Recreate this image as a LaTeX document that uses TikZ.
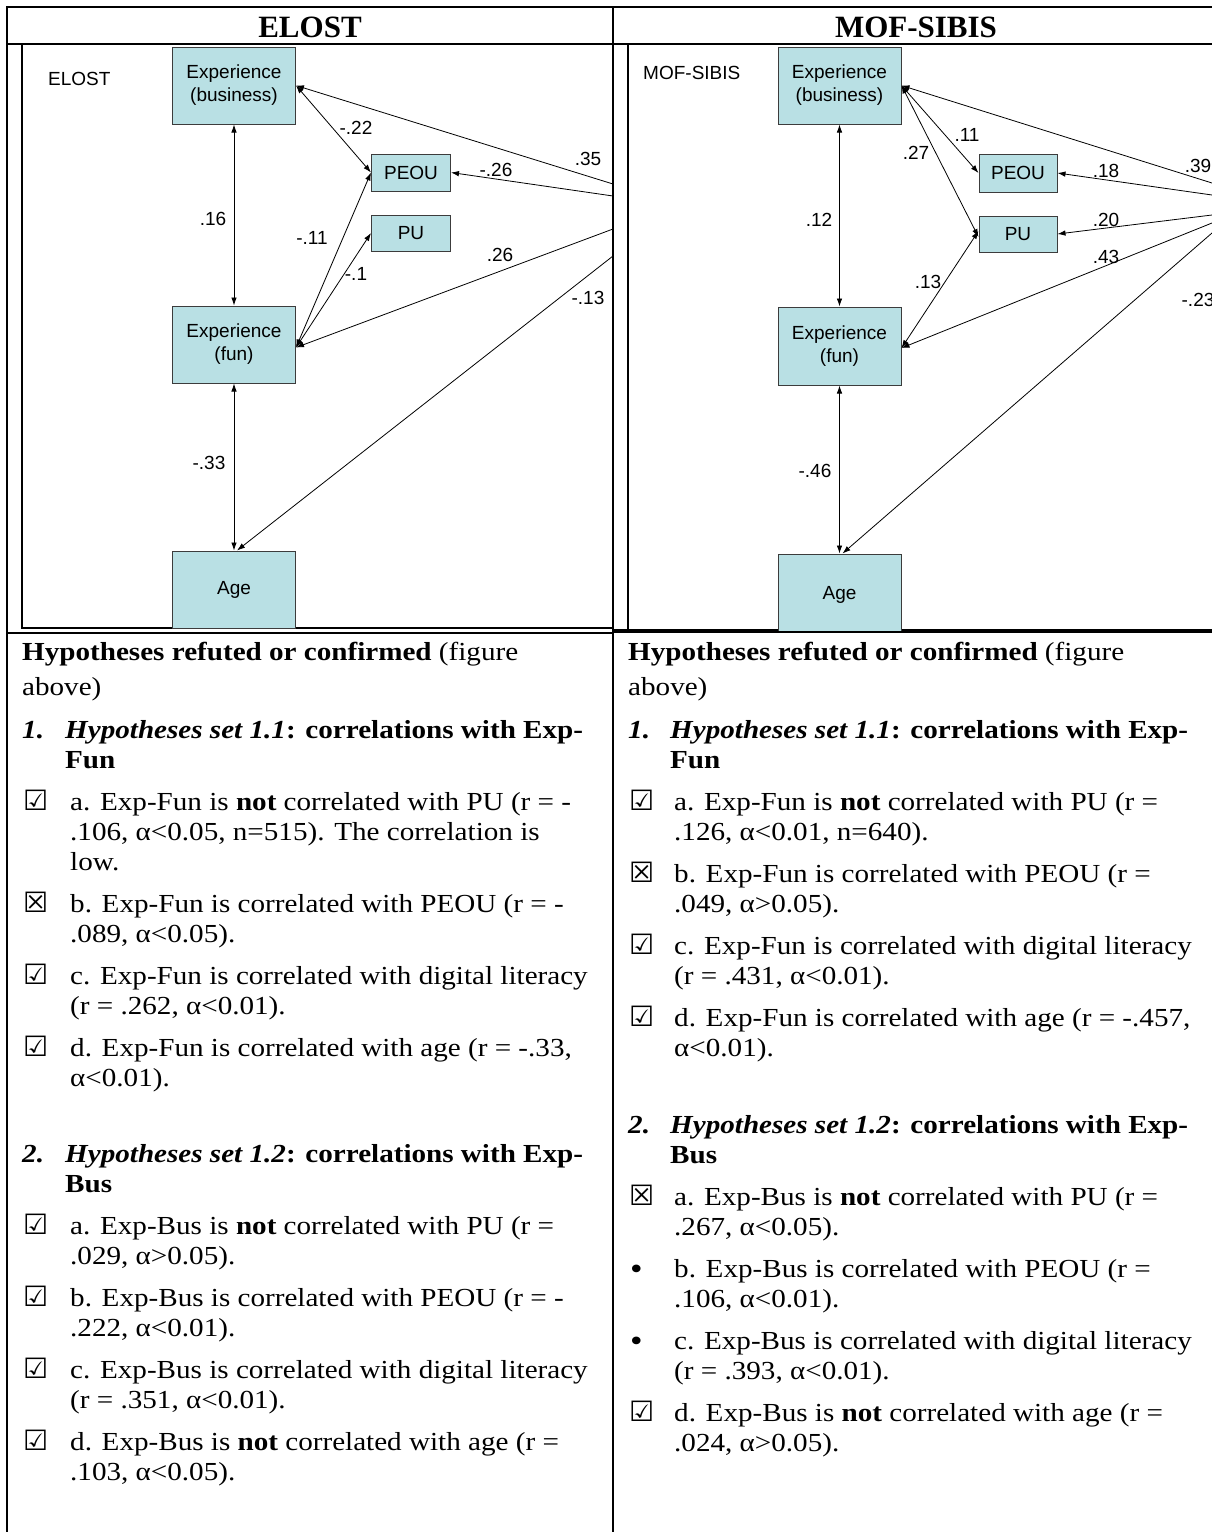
\documentclass[tikz,border=0pt]{standalone}
\usepackage{fontspec}
\setmainfont{Liberation Serif}
\newfontfamily\bodyf[FakeStretch=1.12]{Liberation Serif}
\newfontfamily\arialf{Liberation Sans}
\newfontfamily\symf{DejaVu Sans}
\usetikzlibrary{arrows.meta}
\definecolor{boxfill}{RGB}{185,224,228}
\definecolor{boxline}{RGB}{60,60,60}
\newcommand\bodyfont{\bodyf\fontsize{26}{30}\selectfont}
\newcommand\tline[4]{\node[txt] (#1) at (#2,#3) {#4};}
\newcommand\tsym[4]{\node[symtxt] (#1) at (#2,#3) {#4};}
\newcommand\tbul[4]{\node[bultxt] (#1) at (#2,#3) {#4};}
\tikzset{
  txt/.style={anchor=base west, inner sep=0pt, font=\bodyfont},
  symtxt/.style={anchor=base west, inner sep=0pt, font=\symf\fontsize{28}{28}\selectfont},
  bultxt/.style={anchor=base west, inner sep=0pt, font=\bodyf\fontsize{32}{32}\selectfont},
  vbox/.style={draw=boxline, line width=1pt, fill=boxfill, inner sep=0pt, align=center,
    font=\arialf\fontsize{19}{23}\selectfont},
  lab/.style={inner sep=0pt, font=\arialf\fontsize{19}{23}\selectfont},
  tab/.style={line width=1.8pt},
  frm/.style={line width=1.5pt},
  one/.style={line width=0.8pt, -{Latex[length=8pt,width=5.5pt]}},
  two/.style={line width=0.8pt, {Latex[length=8pt,width=5.5pt]}-{Latex[length=8pt,width=5.5pt]}},
}
\begin{document}
\begin{tikzpicture}[x=1pt,y=-1pt]
\useasboundingbox (0,0) rectangle (1212,1532);
\fill[white] (0,0) rectangle (1212,1532);

% ---------- table ----------
\draw[tab] (7,1532) -- (7,7) -- (1212,7);
\draw[tab] (613,7) -- (613,1532);
\draw[line width=2.4pt] (7,44) -- (1212,44);
\draw[tab] (7,633) -- (613,633);
\draw[line width=3.5pt] (613,631) -- (1212,631);

\node[inner sep=0pt, font=\bfseries\fontsize{31}{31}\selectfont, anchor=base] (hL) at (310,37) {ELOST};
\node[inner sep=0pt, font=\bfseries\fontsize{31}{31}\selectfont, anchor=base] (hR) at (916,37) {MOF-SIBIS};

% ---------- left picture ----------
\draw[frm] (22,44) -- (22,628) -- (613,628);

\node[lab, anchor=west] (tL) at (48,79) {ELOST};
\node[vbox, minimum width=123pt, minimum height=77pt] (ebL) at (234,85.5) {Experience\\(business)};
\node[vbox, minimum width=79pt, minimum height=37pt] (peouL) at (411,172.5) {PEOU};
\node[vbox, minimum width=79pt, minimum height=36pt] (puL) at (411,233) {PU};
\node[vbox, minimum width=123pt, minimum height=77pt] (efL) at (234,344.5) {Experience\\(fun)};
\begin{scope}
\clip (22,44) rectangle (613,628);
\node[vbox, minimum width=123pt, minimum height=77pt] (ageL) at (234,589.5) {Age};
\end{scope}

\coordinate (sL1) at (613,184);
\coordinate (sL2) at (613,196);
\coordinate (sL3) at (613,229);
\coordinate (sL4) at (613,256);

\draw[two] (ebL.south) -- (efL.north);
\draw[two] (efL.south) -- (ageL.north);
\draw[two] (ebL.east) -- (peouL.west);
\draw[one] (sL1) -- (ebL.east);
\draw[one] (sL2) -- (peouL.east);
\draw[two] ([yshift=-3pt]efL.east) -- (peouL.west);
\draw[two] ([yshift=-3pt]efL.east) -- (puL.west);
\draw[one] (sL3) -- ([yshift=-3pt]efL.east);
\draw[one] (sL4) -- ([xshift=3pt]ageL.north);

\node[lab] (l16) at (213,219) {.16};
\node[lab] (l33) at (209,463) {-.33};
\node[lab] (l22) at (356,128) {-.22};
\node[lab] (l35) at (588,159) {.35};
\node[lab] (l26a) at (496,170) {-.26};
\node[lab] (l11) at (312,238) {-.11};
\node[lab] (l1) at (356,274) {-.1};
\node[lab] (l26b) at (500,255) {.26};
\node[lab] (l13) at (588,298) {-.13};

% ---------- right picture ----------
\draw[frm] (628,44) -- (628,631);

\node[lab, anchor=west] (tR) at (643,73) {MOF-SIBIS};
\node[vbox, minimum width=123pt, minimum height=77pt] (ebR) at (839.5,85.5) {Experience\\(business)};
\node[vbox, minimum width=78pt, minimum height=38pt] (peouR) at (1018,173) {PEOU};
\node[vbox, minimum width=78pt, minimum height=36pt] (puR) at (1018,234) {PU};
\node[vbox, minimum width=123pt, minimum height=78pt] (efR) at (839.5,346) {Experience\\(fun)};
\begin{scope}
\clip (628,44) rectangle (1212,630);
\node[vbox, minimum width=123pt, minimum height=82pt] (ageR) at (839.5,595) {Age};
\end{scope}

\coordinate (sR1) at (1212,183);
\coordinate (sR2) at (1212,195);
\coordinate (sR3) at (1212,215);
\coordinate (sR4) at (1212,223);
\coordinate (sR5) at (1212,233);

\draw[two] (ebR.south) -- (efR.north);
\draw[two] (efR.south) -- (ageR.north);
\draw[two] (ebR.east) -- (peouR.west);
\draw[two] (ebR.east) -- ([yshift=-3pt]puR.west);
\draw[one] (sR1) -- (ebR.east);
\draw[one] (sR2) -- (peouR.east);
\draw[one] (sR3) -- (puR.east);
\draw[one] (sR4) -- ([yshift=-2pt]efR.east);
\draw[two] ([yshift=-2pt]efR.east) -- ([yshift=3pt]puR.west);
\draw[one] (sR5) -- ([xshift=3pt]ageR.north);

\node[lab] (r12) at (819,220) {.12};
\node[lab] (r46) at (815,471) {-.46};
\node[lab] (r11) at (967,135) {.11};
\node[lab] (r27) at (916,153) {.27};
\node[lab] (r39) at (1198,166) {.39};
\node[lab] (r18) at (1106,171) {.18};
\node[lab] (r20) at (1106,220) {.20};
\node[lab] (r43) at (1106,257) {.43};
\node[lab] (r13) at (928,282) {.13};
\node[lab] (r23) at (1198,300) {-.23};

% ---------- left text ----------
\tline{a1}{22}{660}{\textbf{Hypotheses refuted or confirmed} (figure}
\tline{a2}{22}{695}{above)}
\tline{a3n}{22}{738}{\textbf{\textit{1.}}}
\tline{a3}{65}{738}{\textbf{\textit{Hypotheses set 1.1}: correlations with Exp-}}
\tline{a4}{65}{768}{\textbf{Fun}}
\tsym{a5s}{23}{810}{☑}
\tline{a5}{70}{810}{a. Exp-Fun is \textbf{not} correlated with PU (r = -}
\tline{a6}{70}{840}{.106, α<0.05, n=515). The correlation is}
\tline{a7}{70}{870}{low.}
\tsym{a8s}{23}{912}{☒}
\tline{a8}{70}{912}{b. Exp-Fun is correlated with PEOU (r = -}
\tline{a9}{70}{942}{.089, α<0.05).}
\tsym{a10s}{23}{984}{☑}
\tline{a10}{70}{984}{c. Exp-Fun is correlated with digital literacy}
\tline{a11}{70}{1014}{(r = .262, α<0.01).}
\tsym{a12s}{23}{1056}{☑}
\tline{a12}{70}{1056}{d. Exp-Fun is correlated with age (r = -.33,}
\tline{a13}{70}{1086}{α<0.01).}
\tline{a14n}{22}{1162}{\textbf{\textit{2.}}}
\tline{a14}{65}{1162}{\textbf{\textit{Hypotheses set 1.2}: correlations with Exp-}}
\tline{a15}{65}{1192}{\textbf{Bus}}
\tsym{a16s}{23}{1234}{☑}
\tline{a16}{70}{1234}{a. Exp-Bus is \textbf{not} correlated with PU (r =}
\tline{a17}{70}{1264}{.029, α>0.05).}
\tsym{a18s}{23}{1306}{☑}
\tline{a18}{70}{1306}{b. Exp-Bus is correlated with PEOU (r = -}
\tline{a19}{70}{1336}{.222, α<0.01).}
\tsym{a20s}{23}{1378}{☑}
\tline{a20}{70}{1378}{c. Exp-Bus is correlated with digital literacy}
\tline{a21}{70}{1408}{(r = .351, α<0.01).}
\tsym{a22s}{23}{1450}{☑}
\tline{a22}{70}{1450}{d. Exp-Bus is \textbf{not} correlated with age (r =}
\tline{a23}{70}{1480}{.103, α<0.05).}

% ---------- right text ----------
\tline{b1}{628}{660}{\textbf{Hypotheses refuted or confirmed} (figure}
\tline{b2}{628}{695}{above)}
\tline{b3n}{628}{738}{\textbf{\textit{1.}}}
\tline{b3}{670}{738}{\textbf{\textit{Hypotheses set 1.1}: correlations with Exp-}}
\tline{b4}{670}{768}{\textbf{Fun}}
\tsym{b5s}{629}{810}{☑}
\tline{b5}{674}{810}{a. Exp-Fun is \textbf{not} correlated with PU (r =}
\tline{b6}{674}{840}{.126, α<0.01, n=640).}
\tsym{b7s}{629}{882}{☒}
\tline{b7}{674}{882}{b. Exp-Fun is correlated with PEOU (r =}
\tline{b8}{674}{912}{.049, α>0.05).}
\tsym{b9s}{629}{954}{☑}
\tline{b9}{674}{954}{c. Exp-Fun is correlated with digital literacy}
\tline{b10}{674}{984}{(r = .431, α<0.01).}
\tsym{b11s}{629}{1026}{☑}
\tline{b11}{674}{1026}{d. Exp-Fun is correlated with age (r = -.457,}
\tline{b12}{674}{1056}{α<0.01).}
\tline{b13n}{628}{1133}{\textbf{\textit{2.}}}
\tline{b13}{670}{1133}{\textbf{\textit{Hypotheses set 1.2}: correlations with Exp-}}
\tline{b14}{670}{1163}{\textbf{Bus}}
\tsym{b15s}{629}{1205}{☒}
\tline{b15}{674}{1205}{a. Exp-Bus is \textbf{not} correlated with PU (r =}
\tline{b16}{674}{1235}{.267, α<0.05).}
\tbul{b17s}{630}{1279}{•}
\tline{b17}{674}{1277}{b. Exp-Bus is correlated with PEOU (r =}
\tline{b18}{674}{1307}{.106, α<0.01).}
\tbul{b19s}{630}{1351}{•}
\tline{b19}{674}{1349}{c. Exp-Bus is correlated with digital literacy}
\tline{b20}{674}{1379}{(r = .393, α<0.01).}
\tsym{b21s}{629}{1421}{☑}
\tline{b21}{674}{1421}{d. Exp-Bus is \textbf{not} correlated with age (r =}
\tline{b22}{674}{1451}{.024, α>0.05).}
\end{tikzpicture}
\end{document}
